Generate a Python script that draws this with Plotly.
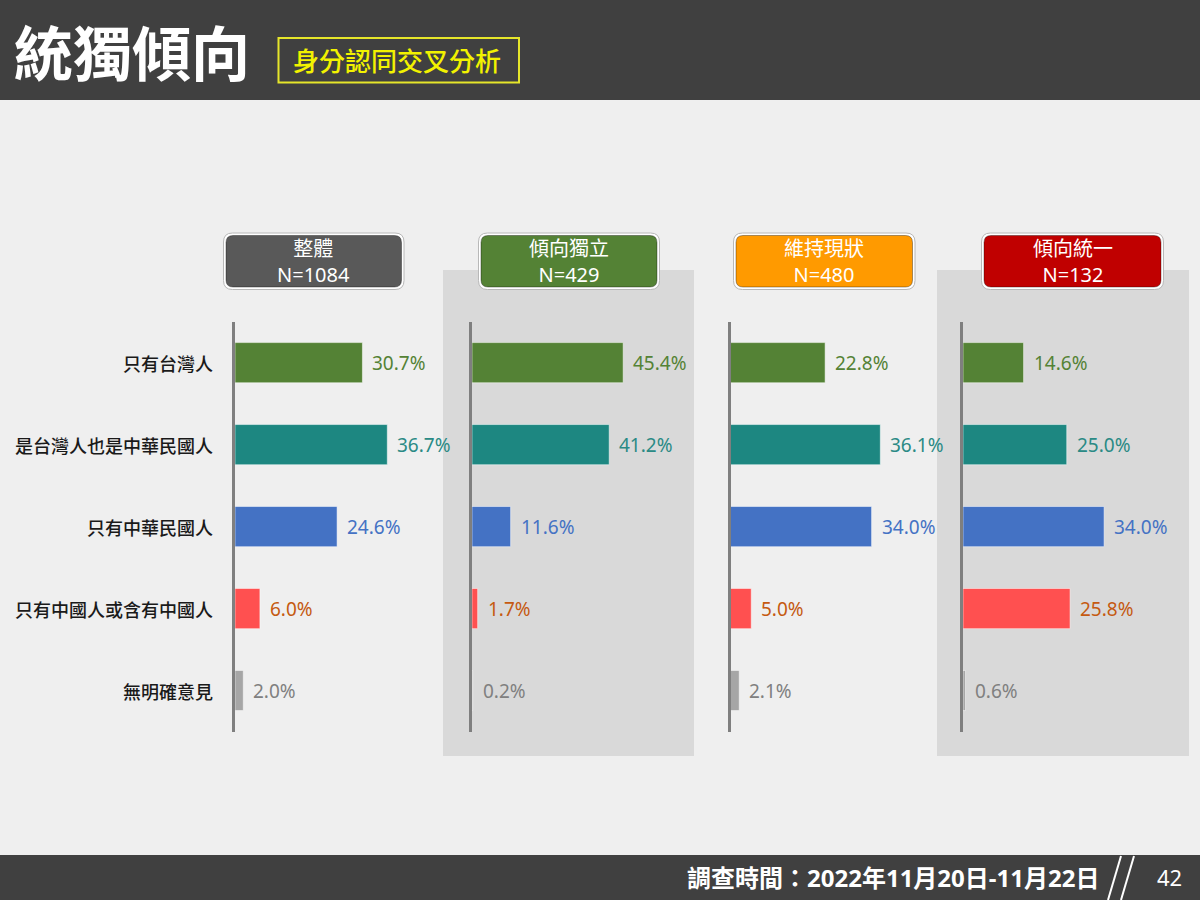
import plotly.graph_objects as go

W, H = 1200, 900

categories = ["只有台灣人", "是台灣人也是中華民國人", "只有中華民國人", "只有中國人或含有中國人", "無明確意見"]
group_names = ["整體", "傾向獨立", "維持現狀", "傾向統一"]
group_n = ["N=1084", "N=429", "N=480", "N=132"]
overall = [30.7, 36.7, 24.6, 6.0, 2.0]
lean_independence = [45.4, 41.2, 11.6, 1.7, 0.2]
status_quo = [22.8, 36.1, 34.0, 5.0, 2.1]
lean_unification = [14.6, 25.0, 34.0, 25.8, 0.6]
series = [overall, lean_independence, status_quo, lean_unification]

bar_colors = ["#548235", "#1d8781", "#4472c4", "#ff5050", "#a6a6a6"]
label_colors = ["#548235", "#2a8a85", "#4472c4", "#c55a11", "#808080"]
header_colors = ["#595959", "#548235", "#ff9a00", "#c00000"]

FONT = "Noto Sans, Noto Sans CJK TC, sans-serif"
CJK = "Noto Sans CJK TC, Noto Sans, sans-serif"


def X(px):
    return px / W


def Y(py):
    return 1 - py / H


# panel geometry (pixels): axis start, width, px per percent
axis_x = [235, 472, 730.5, 963]
scale = [4.15, 3.33, 4.15, 4.15]
panel_w = 200
plot_top, plot_bot = 321.7, 731.5

fig = go.Figure()
shapes = []
annotations = []

# header / footer / background
shapes.append(dict(type="rect", xref="paper", yref="paper", x0=0, x1=1, y0=Y(100), y1=1,
                   fillcolor="#404040", line=dict(width=0), layer="below"))
shapes.append(dict(type="rect", xref="paper", yref="paper", x0=0, x1=1, y0=0, y1=Y(855),
                   fillcolor="#404040", line=dict(width=0), layer="below"))
for gx0, gx1 in [(443, 694), (937, 1189)]:
    shapes.append(dict(type="rect", xref="paper", yref="paper", x0=X(gx0), x1=X(gx1),
                       y0=Y(756), y1=Y(270), fillcolor="#d9d9d9", line=dict(width=0), layer="below"))

# title
annotations.append(dict(text="<b>統獨傾向</b>", xref="paper", yref="paper", x=X(12), y=Y(50),
                        xanchor="left", yanchor="middle", showarrow=False,
                        font=dict(family=CJK, size=59, color="white")))
shapes.append(dict(type="rect", xref="paper", yref="paper", x0=X(278.5), x1=X(519), y0=Y(82.5), y1=Y(38),
                   fillcolor="rgba(0,0,0,0)", line=dict(color="#e6e62a", width=2)))
annotations.append(dict(text="身分認同交叉分析", xref="paper", yref="paper", x=X(397), y=Y(60),
                        xanchor="center", yanchor="middle", showarrow=False,
                        font=dict(family=CJK, size=26, color="#f2f200", weight=500)))

# footer text
annotations.append(dict(text="<b>調查時間：2022年11月20日-11月22日</b>", xref="paper", yref="paper",
                        x=X(1101), y=Y(877), xanchor="right", yanchor="middle", showarrow=False,
                        font=dict(family=FONT, size=24, color="white")))
annotations.append(dict(text="42", xref="paper", yref="paper", x=X(1169), y=Y(877),
                        xanchor="center", yanchor="middle", showarrow=False,
                        font=dict(family=FONT, size=22, color="white")))
for sx in (1121, 1134):
    shapes.append(dict(type="line", xref="paper", yref="paper", x0=X(sx), y0=Y(856),
                       x1=X(sx - 13), y1=Y(900), line=dict(color="white", width=2)))


def rounded(x0, y0, x1, y1, r):
    rx, ry = r / W, r / H
    a0, a1, b0, b1 = X(x0), X(x1), Y(y1), Y(y0)  # b0 bottom, b1 top
    return (f"M {a0+rx},{b1} L {a1-rx},{b1} Q {a1},{b1} {a1},{b1-ry} "
            f"L {a1},{b0+ry} Q {a1},{b0} {a1-rx},{b0} L {a0+rx},{b0} "
            f"Q {a0},{b0} {a0},{b0+ry} L {a0},{b1-ry} Q {a0},{b1} {a0+rx},{b1} Z")


header_boxes = [(223.5, 404), (478.5, 659.5), (733.5, 915), (981.5, 1163.5)]
for i, (hx0, hx1) in enumerate(header_boxes):
    hy0, hy1 = 233, 289.5
    shapes.append(dict(type="path", xref="paper", yref="paper", path=rounded(hx0, hy0, hx1, hy1, 9),
                       fillcolor="white", line=dict(color="#b8b8b8", width=1), layer="above"))
    shapes.append(dict(type="path", xref="paper", yref="paper",
                       path=rounded(hx0 + 2.5, hy0 + 2.5, hx1 - 2.5, hy1 - 2.5, 7),
                       fillcolor=header_colors[i], line=dict(color="rgba(0,0,0,0.35)", width=1), layer="above"))
    annotations.append(dict(text=f"{group_names[i]}<br>{group_n[i]}", xref="paper", yref="paper",
                            x=X((hx0 + hx1) / 2), y=Y(261.5), xanchor="center", yanchor="middle",
                            showarrow=False, align="center",
                            font=dict(family=FONT, size=20, color="white")))

# panels
layout_axes = {}
for i, vals in enumerate(series):
    n = i + 1
    xa = "x" if n == 1 else f"x{n}"
    ya = "y" if n == 1 else f"y{n}"
    rng = panel_w / scale[i]
    fig.add_trace(go.Bar(
        x=vals, y=categories, orientation="h", xaxis=xa, yaxis=ya,
        width=0.49,
        marker=dict(color=bar_colors, line=dict(color="rgba(255,255,255,0.5)", width=1)),
        showlegend=False, hoverinfo="x+y"))
    xkey = "xaxis" if n == 1 else f"xaxis{n}"
    ykey = "yaxis" if n == 1 else f"yaxis{n}"
    layout_axes[xkey] = dict(domain=[X(axis_x[i]), X(axis_x[i] + panel_w)], range=[0, rng],
                             visible=False, fixedrange=True, anchor=ya)
    layout_axes[ykey] = dict(domain=[Y(plot_bot), Y(plot_top)], range=[4.5, -0.5],
                             type="category", categoryorder="array", categoryarray=categories,
                             showline=True, linecolor="#7f7f7f", linewidth=2.5,
                             showticklabels=False, showgrid=False, zeroline=False,
                             ticks="", anchor=xa, fixedrange=True)
    for j, v in enumerate(vals):
        annotations.append(dict(text=f"{v:.1f}%", xref=xa, yref=ya, x=v, y=categories[j],
                                xanchor="left", yanchor="middle", xshift=8, showarrow=False,
                                font=dict(family=FONT, size=19, color=label_colors[j])))

for j, c in enumerate(categories):
    annotations.append(dict(text=c, xref="paper", yref="y", x=X(215), y=c,
                            xanchor="right", yanchor="middle", showarrow=False,
                            font=dict(family=CJK, size=18, color="#1a1a1a", weight=500)))

fig.update_layout(
    width=W, height=H, autosize=False,
    margin=dict(l=0, r=0, t=0, b=0),
    paper_bgcolor="#efefef", plot_bgcolor="rgba(0,0,0,0)",
    shapes=shapes, annotations=annotations,
    bargap=0.5, **layout_axes,
)

fig.write_html("out.html", config={"displayModeBar": False},
               post_script="document.body.style.margin='0';")
